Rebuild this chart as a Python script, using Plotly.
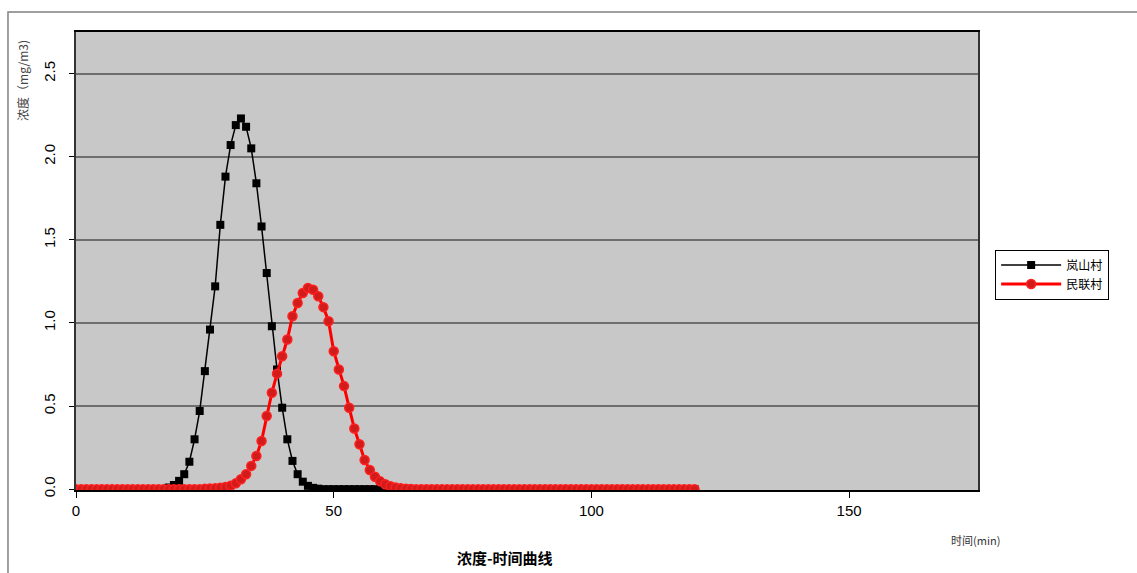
import plotly.graph_objects as go

# Sampling times (min)
minutes = list(range(0, 121))

# Concentration at 岚山村 (mg/m3), one sample per minute
conc_lanshan = [
    0, 0, 0, 0, 0, 0, 0, 0, 0, 0,
    0, 0, 0, 0, 0, 0, 0, 0, 0.01, 0.025,
    0.05, 0.09, 0.165, 0.30, 0.47, 0.71, 0.96, 1.22, 1.59, 1.88,
    2.07, 2.19, 2.23, 2.18, 2.05, 1.84, 1.58, 1.30, 0.98, 0.72,
    0.49, 0.30, 0.17, 0.09, 0.045, 0.02, 0.008, 0.003, 0, 0,
    0, 0, 0, 0, 0, 0, 0, 0, 0, 0,
    0, 0, 0, 0, 0, 0, 0, 0, 0, 0,
    0, 0, 0, 0, 0, 0, 0, 0, 0, 0,
    0, 0, 0, 0, 0, 0, 0, 0, 0, 0,
    0, 0, 0, 0, 0, 0, 0, 0, 0, 0,
    0, 0, 0, 0, 0, 0, 0, 0, 0, 0,
    0, 0, 0, 0, 0, 0, 0, 0, 0, 0,
    0,
]

# Concentration at 民联村 (mg/m3), one sample per minute
conc_minlian = [
    0, 0, 0, 0, 0, 0, 0, 0, 0, 0,
    0, 0, 0, 0, 0, 0, 0, 0, 0, 0,
    0, 0, 0, 0, 0, 0.002, 0.004, 0.006, 0.009, 0.013,
    0.02, 0.035, 0.06, 0.09, 0.14, 0.20, 0.29, 0.44, 0.58, 0.695,
    0.80, 0.90, 1.04, 1.12, 1.18, 1.21, 1.20, 1.16, 1.095, 1.01,
    0.83, 0.72, 0.62, 0.49, 0.365, 0.27, 0.175, 0.115, 0.075, 0.047,
    0.03, 0.018, 0.01, 0.006, 0.003, 0.001, 0, 0, 0, 0,
    0, 0, 0, 0, 0, 0, 0, 0, 0, 0,
    0, 0, 0, 0, 0, 0, 0, 0, 0, 0,
    0, 0, 0, 0, 0, 0, 0, 0, 0, 0,
    0, 0, 0, 0, 0, 0, 0, 0, 0, 0,
    0, 0, 0, 0, 0, 0, 0, 0, 0, 0,
    0,
]

series_names = ["岚山村", "民联村"]
x_ticks = [0, 50, 100, 150]
y_ticks = [0.0, 0.5, 1.0, 1.5, 2.0, 2.5]

CJK = "Noto Sans CJK SC"
NUM = "Liberation Sans Narrow, Liberation Sans, Arial"

fig = go.Figure()

fig.add_trace(go.Scatter(
    x=minutes, y=conc_lanshan, name=series_names[0],
    mode="lines+markers",
    line=dict(color="#000000", width=1.5),
    marker=dict(symbol="square", size=8, color="#000000"),
))
fig.add_trace(go.Scatter(
    x=minutes, y=conc_minlian, name=series_names[1],
    mode="lines+markers",
    line=dict(color="#ff0000", width=3),
    marker=dict(symbol="circle", size=9, color="#d21c1c",
                line=dict(color="#ff2020", width=1.5)),
))

fig.update_layout(
    width=1137, height=573,
    margin=dict(l=76, r=159, t=32, b=83),
    paper_bgcolor="#ffffff",
    plot_bgcolor="#c8c8c8",
    showlegend=True,
    legend=dict(
        x=1.019, y=0.525, xanchor="left", yanchor="top",
        bgcolor="#ffffff", bordercolor="#000000", borderwidth=1,
        font=dict(family=CJK, size=12, color="#000000"),
        itemwidth=60, tracegroupgap=0,
    ),
    xaxis=dict(
        range=[0, 175], tickvals=x_ticks,
        ticktext=[str(v) for v in x_ticks],
        showgrid=False, zeroline=False,
        showline=True, linecolor="#000000", linewidth=1.5, mirror=True,
        ticks="outside", ticklen=6, tickcolor="#000000",
        tickfont=dict(family=NUM, size=15, color="#000000"),
    ),
    yaxis=dict(
        range=[-0.005, 2.75], tickvals=y_ticks,
        ticktext=[f"{v:.1f}" for v in y_ticks],
        tickangle=-90,
        showgrid=True, gridcolor="#6f6f6f", gridwidth=2,
        zeroline=False,
        showline=True, linecolor="#333333", linewidth=1.5, mirror=True,
        ticks="outside", ticklen=5, tickcolor="#000000",
        ticklabelstandoff=8,
        tickfont=dict(family=NUM, size=15, color="#000000"),
    ),
)

# Outer chart border
fig.add_shape(
    type="rect", xref="paper", yref="paper",
    x0=-0.0754, x1=1.3, y0=-0.3, y1=1.0437,
    line=dict(color="#808080", width=1.5), fillcolor="rgba(0,0,0,0)",
    layer="below",
)

# Axis titles and chart title
fig.add_annotation(
    text="浓度（mg/m3)", xref="paper", yref="paper",
    x=-0.060, y=0.895, xanchor="center", yanchor="middle",
    textangle=-90, showarrow=False,
    font=dict(family=CJK, size=12, color="#444444"),
)
fig.add_annotation(
    text="时间(min)", xref="paper", yref="paper",
    x=0.997, y=-0.109, xanchor="center", yanchor="middle",
    showarrow=False,
    font=dict(family=CJK, size=11, color="#333333"),
)
fig.add_annotation(
    text="<b>浓度-时间曲线</b>", xref="paper", yref="paper",
    x=0.476, y=-0.148, xanchor="center", yanchor="middle",
    showarrow=False,
    font=dict(family=CJK, size=15, color="#000000"),
)

fig.write_html("out.html")
